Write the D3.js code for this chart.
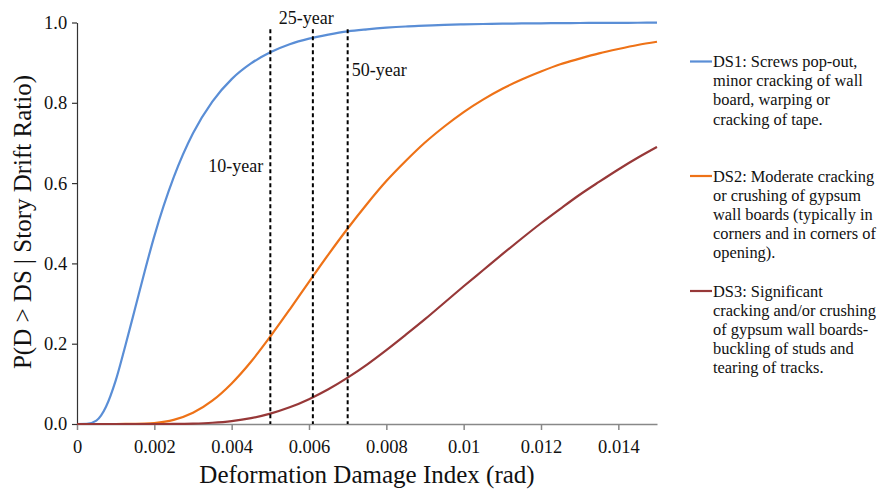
<!DOCTYPE html>
<html>
<head>
<meta charset="utf-8">
<script src="https://cdn.jsdelivr.net/npm/d3@7"></script>
<style>
  html, body { margin: 0; padding: 0; background: #fff; }
  svg { display: block; }
  svg text { font-family: "Liberation Serif", serif; }
</style>
</head>
<body>
<svg id="chart" width="880" height="489"></svg>
<script>
// Deformation damage index (rad) sample points
const drift = [0, 0.00025, 0.0005, 0.00075, 0.001, 0.00125, 0.0015, 0.00175, 0.002, 0.0025, 0.003, 0.0035,
  0.004, 0.0045, 0.005, 0.0055, 0.006, 0.0065, 0.007, 0.0075, 0.008, 0.0085, 0.009, 0.0095,
  0.010, 0.0105, 0.011, 0.0115, 0.012, 0.0125, 0.013, 0.0135, 0.014, 0.0145, 0.015];

// Exceedance probability for each damage state
const ds1 = [0, 0.0002, 0.0084, 0.043, 0.108, 0.195, 0.287, 0.380, 0.468, 0.614, 0.724, 0.803,
  0.859, 0.898, 0.926, 0.946, 0.960, 0.970, 0.978, 0.983, 0.987, 0.990, 0.992, 0.994,
  0.9954, 0.9963, 0.9971, 0.9976, 0.998, 0.9984, 0.9988, 0.999, 0.9992, 0.9994, 0.9995];
const ds2 = [0, 0, 0, 0, 0, 0.0001, 0.0003, 0.0009, 0.0024, 0.0102, 0.0278, 0.058,
  0.101, 0.155, 0.218, 0.285, 0.354, 0.422, 0.487, 0.548, 0.605, 0.655, 0.701, 0.741,
  0.777, 0.808, 0.835, 0.858, 0.878, 0.896, 0.910, 0.923, 0.934, 0.944, 0.952];
const ds3 = [0, 0, 0, 0, 0, 0, 0, 0, 0, 0.0002, 0.001, 0.0031,
  0.0073, 0.0146, 0.0259, 0.0415, 0.0618, 0.0865, 0.1155, 0.148, 0.184, 0.222, 0.261, 0.302,
  0.343, 0.383, 0.423, 0.462, 0.5, 0.536, 0.571, 0.603, 0.634, 0.663, 0.690];

const seriesNames = ["DS1", "DS2", "DS3"];
const legendText = [
  ["DS1: Screws pop-out,", "minor cracking of wall", "board, warping or", "cracking of tape."],
  ["DS2: Moderate cracking", "or crushing of gypsum", "wall boards (typically in", "corners and in corners of", "opening)."],
  ["DS3: Significant", "cracking and/or crushing", "of gypsum wall boards-", "buckling of studs and", "tearing of tracks."]
];
const colors = ["#5A8ED6", "#EE7217", "#973838"];

// Return-period markers
const periodLabels = ["10-year", "25-year", "50-year"];
const periodDrift = [0.005, 0.0061, 0.007];
const periodTop = 0.983;

const xTicks = [0, 0.002, 0.004, 0.006, 0.008, 0.01, 0.012, 0.014];
const xTickLabels = ["0", "0.002", "0.004", "0.006", "0.008", "0.01", "0.012", "0.014"];
const yTicks = [0, 0.2, 0.4, 0.6, 0.8, 1.0];
const yTickLabels = ["0.0", "0.2", "0.4", "0.6", "0.8", "1.0"];

const FONT = "Liberation Serif";
const svg = d3.select("#chart");
const x = d3.scaleLinear().domain([0, 0.015]).range([77, 657]);
const y = d3.scaleLinear().domain([0, 1]).range([424, 22.5]);

// Axes
const xAxis = d3.axisBottom(x).tickValues(xTicks)
  .tickFormat((d, i) => xTickLabels[i]).tickSize(6).tickSizeOuter(0);
const gx = svg.append("g").attr("transform", `translate(0,${y(0)})`).call(xAxis)
  .attr("font-family", FONT).attr("font-size", 18.5);
gx.select(".domain").attr("stroke", "#888").attr("stroke-width", 1.5);
gx.selectAll(".tick line").attr("stroke", "#888").attr("stroke-width", 1.5);
gx.selectAll(".tick text").attr("fill", "#111").attr("dy", "1.1em");

const yAxis = d3.axisLeft(y).tickValues(yTicks)
  .tickFormat((d, i) => yTickLabels[i]).tickSize(5).tickSizeOuter(0);
const gy = svg.append("g").attr("transform", `translate(${x(0)},0)`).call(yAxis)
  .attr("font-family", FONT).attr("font-size", 18.5);
gy.select(".domain").attr("stroke", "#333").attr("stroke-width", 1.2);
gy.selectAll(".tick line").attr("stroke", "#333").attr("stroke-width", 1.2);
gy.selectAll(".tick text").attr("fill", "#111").attr("dx", "-0.1em");

// Axis titles
svg.append("text").attr("x", 367).attr("y", 483).attr("text-anchor", "middle")
  .attr("font-family", FONT).attr("font-size", 25).attr("fill", "#111")
  .text("Deformation Damage Index (rad)");
svg.append("text").attr("transform", "translate(31,222) rotate(-90)").attr("text-anchor", "middle")
  .attr("font-family", FONT).attr("font-size", 25).attr("fill", "#111")
  .text("P(D > DS | Story Drift Ratio)");

// Fragility curves
const allSeries = [ds1, ds2, ds3];
const line = d3.line().x(d => x(d[0])).y(d => y(d[1])).curve(d3.curveMonotoneX);
allSeries.forEach((vals, i) => {
  svg.append("path")
    .datum(drift.map((d, j) => [d, vals[j]]))
    .attr("fill", "none").attr("stroke", colors[i]).attr("stroke-width", 2.2)
    .attr("d", line);
});

// Return-period lines
periodDrift.forEach((d, i) => {
  svg.append("line")
    .attr("x1", x(d)).attr("x2", x(d)).attr("y1", y(periodTop)).attr("y2", y(0))
    .attr("stroke", "#000").attr("stroke-width", 2).attr("stroke-dasharray", "4,3");
});
const labelPos = [
  { dx: -7, y: 172, anchor: "end" },
  { dx: -34, y: 24, anchor: "start" },
  { dx: 4, y: 76, anchor: "start" }
];
periodLabels.forEach((t, i) => {
  svg.append("text").attr("x", x(periodDrift[i]) + labelPos[i].dx).attr("y", labelPos[i].y)
    .attr("text-anchor", labelPos[i].anchor).attr("font-family", FONT)
    .attr("font-size", 18).attr("fill", "#111").text(t);
});

// Legend
const legendTop = [61.5, 176, 291];
legendText.forEach((lines, i) => {
  const g = svg.append("g").attr("transform", `translate(690,${legendTop[i]})`);
  g.append("line").attr("x1", 0).attr("x2", 22).attr("y1", 0).attr("y2", 0)
    .attr("stroke", colors[i]).attr("stroke-width", 2.2);
  lines.forEach((l, k) => {
    g.append("text").attr("x", 23).attr("y", 5.5 + k * 19.2)
      .attr("font-family", FONT).attr("font-size", 16.4).attr("fill", "#111").text(l);
  });
});
</script>
</body>
</html>
